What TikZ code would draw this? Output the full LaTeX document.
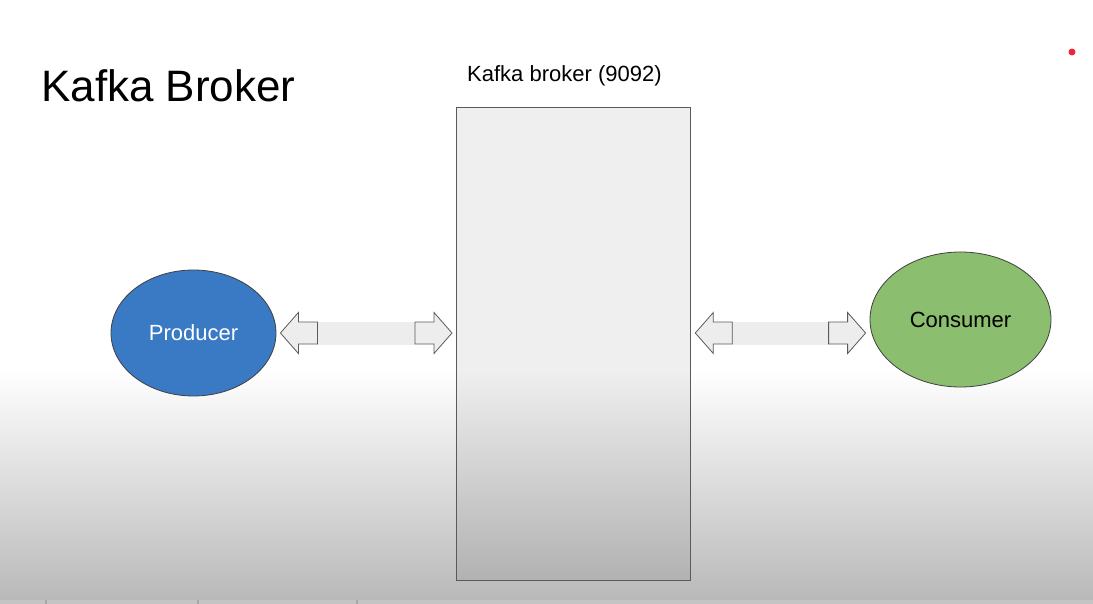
\documentclass[tikz,border=0pt]{standalone}
\usepackage{fontspec}
\setmainfont{Liberation Sans}
\usetikzlibrary{calc,shapes.geometric}
\definecolor{prodblue}{HTML}{3A79C3}
\definecolor{consgreen}{HTML}{8BBE6F}
\definecolor{edgegray}{HTML}{404040}
\definecolor{boxedge}{HTML}{5A5A5A}
\definecolor{bgbot}{HTML}{B9B9B9}
\definecolor{stripc}{HTML}{C4C4C4}
\definecolor{stripline}{HTML}{A8A8A8}
\definecolor{brokertop}{HTML}{EFEFEF}
\definecolor{brokerbot}{HTML}{B2B2B2}
\definecolor{arrowfill}{HTML}{EDEDED}
\definecolor{arrowedge}{HTML}{5A5A5A}
\definecolor{dotred}{HTML}{F0243C}
\tikzset{
  blob/.style={ellipse, draw=edgegray, line width=0.8pt, inner sep=0pt,
    font=\fontsize{22}{26}\selectfont},
  headshape/.style={draw=arrowedge, fill=arrowfill, line width=0.8pt, line join=miter},
  shaftshape/.style={fill=arrowfill},
}
\newcommand\mydoublearrow[2]{%
  \fill[shaftshape] ($(#1)+(37,-11.5)$) rectangle ($(#2)+(-37,11.5)$);
  \draw[headshape] (#1) -- ($(#1)+(18,-20.5)$) -- ($(#1)+(18,-11)$) -- ($(#1)+(37,-11)$)
     -- ($(#1)+(37,11)$) -- ($(#1)+(18,11)$) -- ($(#1)+(18,20.5)$) -- cycle;
  \draw[headshape] (#2) -- ($(#2)+(-18,-20.5)$) -- ($(#2)+(-18,-11)$) -- ($(#2)+(-37,-11)$)
     -- ($(#2)+(-37,11)$) -- ($(#2)+(-18,11)$) -- ($(#2)+(-18,20.5)$) -- cycle;
}
\begin{document}
\begin{tikzpicture}[x=1pt,y=-1pt]
\useasboundingbox (0,0) rectangle (1093,604);
% background
\fill[white] (0,0) rectangle (1093,370);
\shade[top color=white,bottom color=bgbot] (0,370) rectangle (1093,600);
\fill[stripc] (0,600) rectangle (1093,604);
\foreach \xx in {45,197,356} \fill[stripline] (\xx,600) rectangle (\xx+2,604);
% broker box
\fill[brokertop] (456,107) rectangle (690,370);
\shade[top color=brokertop,bottom color=brokerbot] (456,370) rectangle (690,580);
\node[draw=boxedge, line width=1.3pt, minimum width=234pt, minimum height=473pt,
      inner sep=0pt, anchor=north west] (broker) at (456,107) {};
% texts
\node[anchor=base west, inner sep=0pt, font=\fontsize{44}{50}\selectfont] (title) at (41,102) {Kafka Broker};
\node[anchor=base west, inner sep=0pt, font=\fontsize{22}{26}\selectfont] (blabel) at (467,82) {Kafka broker (9092)};
% ellipses
\node[blob, fill=prodblue, text=white, minimum width=165pt, minimum height=126pt] (prod) at (193.5,333) {Producer};
\node[blob, fill=consgreen, text=black, minimum width=181pt, minimum height=135pt] (cons) at (960.5,319.5) {Consumer};
% arrow tips
\coordinate (l1) at ($(prod.east)+(4,0)$);
\coordinate (l2) at ($(broker.west |- prod.east)+(-4,0)$);
\coordinate (r1) at ($(broker.east |- prod.east)+(4,0)$);
\coordinate (r2) at ($(cons.west |- prod.east)+(-4,0)$);
\mydoublearrow{l1}{l2}
\mydoublearrow{r1}{r2}
% red dot
\fill[dotred] (1072,52) circle (3.5);
\end{tikzpicture}
\end{document}
